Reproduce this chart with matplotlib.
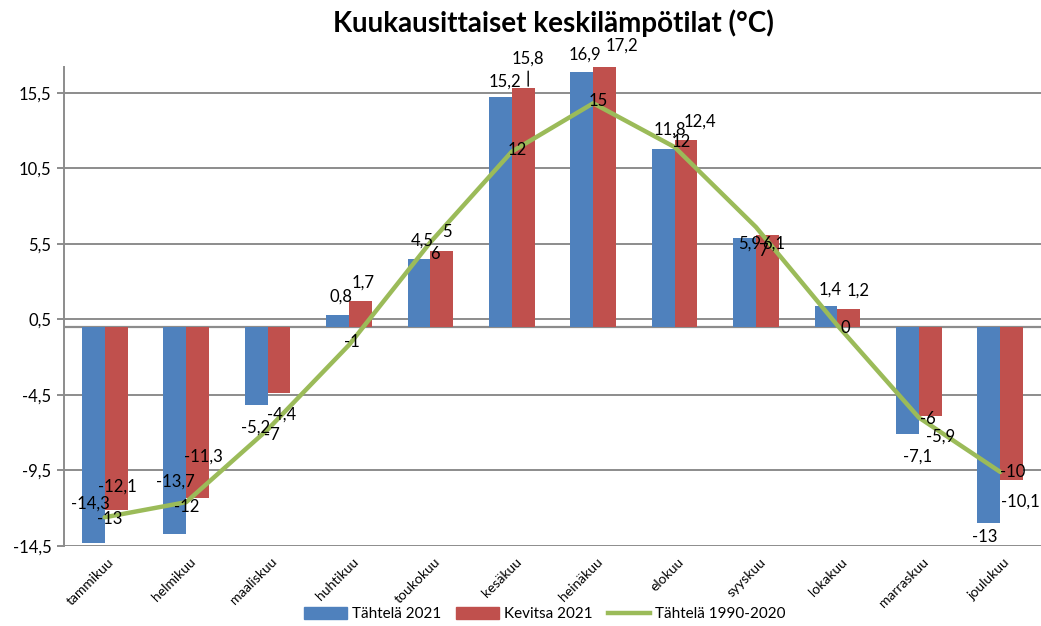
import matplotlib
matplotlib.use("Agg")
import matplotlib.pyplot as plt
from matplotlib.patches import Patch
from matplotlib.lines import Line2D
from matplotlib.transforms import offset_copy
import numpy as np

plt.rcParams['font.family'] = ['Lato', 'DejaVu Sans']

# data
months = ["tammikuu", "helmikuu", "maaliskuu", "huhtikuu", "toukokuu", "kesäkuu",
          "heinäkuu", "elokuu", "syyskuu", "lokakuu", "marraskuu", "joulukuu"]
tahtela_2021 = [-14.3, -13.7, -5.2, 0.8, 4.5, 15.2, 16.9, 11.8, 5.9, 1.4, -7.1, -13]
kevitsa_2021 = [-12.1, -11.3, -4.4, 1.7, 5, 15.8, 17.2, 12.4, 6.1, 1.2, -5.9, -10.1]
tahtela_norm = [-12.6, -11.6, -6.8, -1.2, 5.6, 11.6, 14.8, 11.9, 6.6, 0.1, -6.0, -9.6]
yticks = [-14.5, -9.5, -4.5, 0.5, 5.5, 10.5, 15.5]

# label offsets in pixels (dx, dy) - tuned by eye
off_blue = [(-3, 39), (1, 52), (-1, -22), (3, 18), (3, 18), (5, 16),
            (3, 17), (7, 19), (5, -6), (4, 16), (10, -22), (-4, -14)]
off_red = [(1, 23), (6, 41), (3, -21), (3, 19), (5, 19), (5, 30),
           (17, 21), (14, 18), (6, -9), (9, 18), (10, -21), (9, -22)]
off_green = [(5, -2), (1, -5), (4, -5), (3, 3), (5, -12), (5, 2),
             (5, 2), (7, 5), (7, -24), (8, -3), (9, -1), (12, 0)]

BLUE = "#4F81BD"
RED = "#C0504D"
GREEN = "#9BBB59"
GRID = "#8C8C8C"


def fmt(v):
    return f"{v:g}".replace(".", ",")


fig = plt.figure(figsize=(10.41, 6.26), dpi=100)
ax = fig.add_axes([64 / 1041, 1 - 546 / 626, 1 - 64 / 1041, (546 - 67) / 626])

x = np.arange(len(months))
w = 0.28
ax.bar(x - w / 2, tahtela_2021, w, color=BLUE, zorder=3)
ax.bar(x + w / 2, kevitsa_2021, w, color=RED, zorder=3)
ax.plot(x, tahtela_norm, color=GREEN, lw=3.2, zorder=4, solid_capstyle='round')

ax.set_xlim(-0.5, len(months) - 0.5)
ax.set_ylim(-14.5, 17.2)
ax.set_yticks(yticks)
ax.set_yticklabels([fmt(t) for t in yticks], fontsize=12)
ax.grid(axis='y', color=GRID, lw=1.4, zorder=0)
ax.axhline(0, color=GRID, lw=1.6, zorder=2)

for s in ['top', 'right', 'bottom']:
    ax.spines[s].set_visible(False)
ax.spines['left'].set_color(GRID)
ax.spines['left'].set_linewidth(1.4)
ax.tick_params(axis='y', length=5, width=1.4, color=GRID, pad=4)
ax.tick_params(axis='x', length=0, pad=7)
ax.set_xticks(x + 0.04)
ax.set_xticklabels(months, rotation=45, ha='right', rotation_mode='anchor', fontsize=10)

for i in range(len(months)):
    ax.annotate(fmt(tahtela_2021[i]), (x[i] - w / 2, tahtela_2021[i]),
                xytext=off_blue[i], textcoords='offset pixels',
                ha='center', va='center', fontsize=12, zorder=6)
    ax.annotate(fmt(kevitsa_2021[i]), (x[i] + w / 2, kevitsa_2021[i]),
                xytext=off_red[i], textcoords='offset pixels',
                ha='center', va='center', fontsize=12, zorder=6)
    ax.annotate(f"{tahtela_norm[i]:.0f}", (x[i], tahtela_norm[i]),
                xytext=off_green[i], textcoords='offset pixels',
                ha='center', va='center', fontsize=12, zorder=6)

# leader line for the kesäkuu Kevitsa label
lead = offset_copy(ax.transData, fig=fig, x=5, y=2, units='dots')
ax.annotate("", (x[5] + w / 2, kevitsa_2021[5]), xycoords=lead,
            xytext=(0, 15), textcoords='offset pixels',
            arrowprops=dict(arrowstyle='-', color='black', lw=1,
                            shrinkA=0, shrinkB=0))

fig.suptitle("Kuukausittaiset keskilämpötilat (°C)", x=553 / 1041, y=0.985,
             fontsize=20, fontweight='bold')

handles = [Patch(color=BLUE, label="Tähtelä 2021"),
           Patch(color=RED, label="Kevitsa 2021"),
           Line2D([], [], color=GREEN, lw=3.2, label="Tähtelä 1990-2020")]
fig.legend(handles=handles, loc='center', bbox_to_anchor=(545 / 1041, 0.019),
           ncol=3, frameon=False, fontsize=11, handlelength=2.8,
           handleheight=0.8, columnspacing=1.0, handletextpad=0.3)

fig.savefig("out.png", dpi=100)
